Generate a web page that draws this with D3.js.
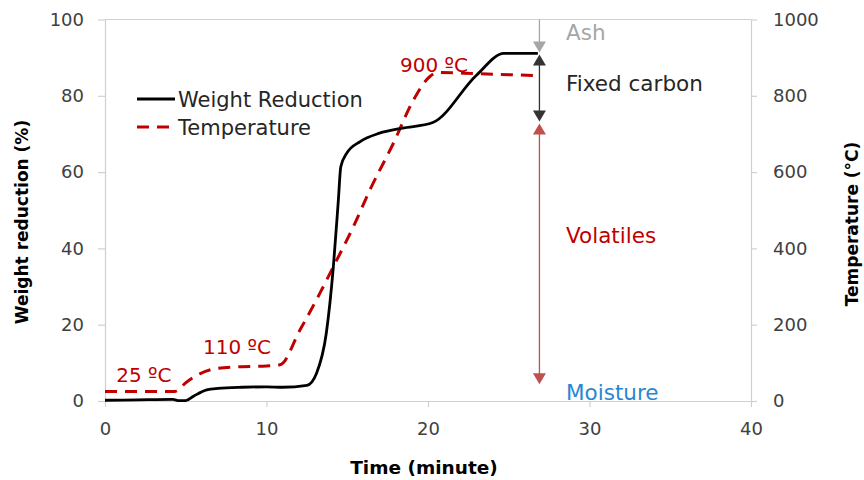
<!DOCTYPE html>
<html><head><meta charset="utf-8">
<script src="https://cdn.jsdelivr.net/npm/d3@7"></script>
<style>
body{margin:0;background:#fff;}
svg{display:block;}
</style></head>
<body>
<svg id="chart" width="864" height="480"></svg>
<script>
// ---- data ----
const weightTime =   [0, 2, 4.2, 4.6, 5.0, 5.5, 6.3, 7.0, 8.5, 10, 11, 12.5, 13.1, 13.7, 14.14, 14.45, 14.6, 14.96, 15.8, 17.0, 18.4, 20.3, 23.0, 24.7, 26.8];
const weightValues = [0.2, 0.3, 0.4, 0.1, 0.1, 1.3, 2.9, 3.3, 3.6, 3.7, 3.6, 4.1, 7.3, 17.7, 35.2, 52.7, 61.4, 64.9, 68.0, 70.2, 71.5, 73.0, 85.4, 91.1, 91.1];
const tempTime =   [0, 4.3, 5.06, 5.9, 6.9, 8.5, 10.0, 10.84, 12.07, 13.3, 14.14, 15.38, 16.4, 17.85, 19.1, 20.1, 20.6, 23.0, 26.8];
const tempValues = [25, 25, 50, 72, 85, 90, 92, 95, 186, 282, 352, 457, 553, 675, 789, 850, 861, 858, 853];
const xTicks = [0, 10, 20, 30, 40];
const yLeftTicks = [0, 20, 40, 60, 80, 100];
const yRightTicks = [0, 200, 400, 600, 800, 1000];
// component levels (weight %), marker time
const levelAsh = 100, levelFixed = 91.1, levelVolatile = 73, levelMoisture = 4.1, levelZero = 0;
const markerTime = 26.9;
// dotted reference lines: [level, start time, end time]
const refLevels = [[91.1, 0, 26.8], [73, 20.3, 26.8], [4.1, 12.5, 26.8], [0, 5.0, 26.8]];
// temperature annotations: [text, time, temperature at baseline]
const tempLabels = [["25 ºC", 0.7, 50], ["110 ºC", 6.07, 123], ["900 ºC", 18.27, 862]];
// component annotations: [text, weight % at baseline, colour]
const compLabels = [["Ash", 94.6, "#a6a6a6"], ["Fixed carbon", 81.3, "#262626"], ["Volatiles", 41.4, "#c00000"], ["Moisture", 0.3, "#2a86d1"]];

// ---- layout ----
const svg = d3.select("#chart");
const L = 105, R = 751, T = 19.5, B = 401;
const x = d3.scaleLinear().domain([0, 40]).range([L, R]);
const y = d3.scaleLinear().domain([0, 100]).range([B, T]);
const y2 = d3.scaleLinear().domain([0, 1000]).range([B, T]);
const font = "'DejaVu Sans', sans-serif";
const axisColor = "#d0d0d0";
const tickText = "#404040";

const defs = svg.append("defs");
const f = defs.append("filter").attr("id","sh").attr("x","-5%").attr("y","-200%").attr("width","110%").attr("height","500%");
f.append("feDropShadow").attr("dx",0).attr("dy",2).attr("stdDeviation",1.2).attr("flood-color","#000").attr("flood-opacity",0.18);

// top border
svg.append("line").attr("x1",L).attr("x2",R).attr("y1",y(100)).attr("y2",y(100)).attr("stroke",axisColor).attr("stroke-width",1.2);

// axes
function styleAxis(g){
  g.select(".domain").attr("stroke",axisColor).attr("stroke-width",1.2);
  g.selectAll(".tick line").attr("stroke",axisColor).attr("stroke-width",1.2);
  g.selectAll(".tick text").attr("fill",tickText).style("font-family",font).style("font-size","18px");
}
const gx = svg.append("g").attr("transform",`translate(0,${B})`)
  .call(d3.axisBottom(x).tickValues(xTicks).tickSize(6).tickSizeOuter(0).tickPadding(15));
styleAxis(gx);
const gy = svg.append("g").attr("transform",`translate(${L},0)`)
  .call(d3.axisLeft(y).tickValues(yLeftTicks).tickSize(7).tickSizeOuter(0).tickPadding(14));
styleAxis(gy);
const gy2 = svg.append("g").attr("transform",`translate(${R},0)`)
  .call(d3.axisRight(y2).tickValues(yRightTicks).tickFormat(d3.format("d")).tickSize(6).tickSizeOuter(0).tickPadding(16));
styleAxis(gy2);

// axis titles
const titleFont = "'DejaVu Sans', sans-serif";
svg.append("text").attr("x",424).attr("y",474).attr("text-anchor","middle")
  .style("font-family",titleFont).style("font-weight","bold").style("font-size","18.5px").attr("fill","#000").text("Time (minute)");
svg.append("text").attr("transform",`translate(28,222) rotate(-90)`).attr("text-anchor","middle")
  .style("font-family",titleFont).style("font-weight","bold").style("font-size","17px").attr("fill","#000").text("Weight reduction (%)");
svg.append("text").attr("transform",`translate(858,224) rotate(-90)`).attr("text-anchor","middle")
  .style("font-family",titleFont).style("font-weight","bold").style("font-size","17px").attr("fill","#000").text("Temperature (°C)");

// dotted reference lines
refLevels.forEach(([lv, t0, t1]) => {
  svg.append("line").attr("x1",x(t0)).attr("x2",x(t1)).attr("y1",y(lv)).attr("y2",y(lv))
    .attr("stroke","#404040").attr("stroke-width",1.8).attr("stroke-dasharray","1.6,1.6").attr("filter","url(#sh)");
});

// curves
const lineW = d3.line().x((d,i)=>x(weightTime[i])).y(d=>y(d)).curve(d3.curveMonotoneX);
const lineT = d3.line().x((d,i)=>x(tempTime[i])).y(d=>y2(d)).curve(d3.curveMonotoneX);
svg.append("path").attr("d",lineT(tempValues)).attr("fill","none").attr("stroke","#c00000").attr("stroke-width",3).attr("stroke-dasharray","12,8");
svg.append("path").attr("d",lineW(weightValues)).attr("fill","none").attr("stroke","#000").attr("stroke-width",2.8).attr("stroke-linejoin","round");

// arrows
const ax = x(markerTime);
function tri(tipY, dir, color){ // dir: 1 points down, -1 points up
  const h = 11, w = 6.5;
  svg.append("path").attr("d",`M${ax},${tipY} L${ax-w},${tipY - dir*h} L${ax+w},${tipY - dir*h} Z`).attr("fill",color);
}
function vline(y1,y2c,color){
  svg.append("line").attr("x1",ax).attr("x2",ax).attr("y1",y1).attr("y2",y2c).attr("stroke",color).attr("stroke-width",1.3);
}
vline(y(levelAsh), y(levelFixed)-6, "#a6a6a6"); tri(y(levelFixed)-1, 1, "#a6a6a6");
vline(y(levelFixed)+6, y(levelVolatile)-6, "#333"); tri(y(levelFixed)+1, -1, "#333"); tri(y(levelVolatile)-1, 1, "#333");
vline(y(levelVolatile)+6, y(levelMoisture)-6, "#c0504d"); tri(y(levelVolatile)+1, -1, "#c0504d"); tri(y(levelMoisture)-1, 1, "#c0504d");

// component labels
compLabels.forEach(([t, lv, c]) => {
  svg.append("text").attr("x",566).attr("y",y(lv)).attr("fill",c)
    .style("font-family",font).style("font-size","21.5px").text(t);
});

// temperature labels
tempLabels.forEach(([t, tm, tv]) => {
  svg.append("text").attr("x",x(tm)).attr("y",y2(tv)).attr("fill","#c00000")
    .style("font-family",font).style("font-size","20px").text(t);
});

// legend
const lg = [["Weight Reduction","#000",null,99],["Temperature","#c00000","12,8",127]];
lg.forEach(([t,c,dash,yy]) => {
  svg.append("line").attr("x1",137).attr("x2",175).attr("y1",yy).attr("y2",yy).attr("stroke",c).attr("stroke-width",3).attr("stroke-dasharray",dash);
  svg.append("text").attr("x",178).attr("y",yy+7.5).attr("fill","#262626").style("font-family",font).style("font-size","21px").text(t);
});
</script>
</body></html>
